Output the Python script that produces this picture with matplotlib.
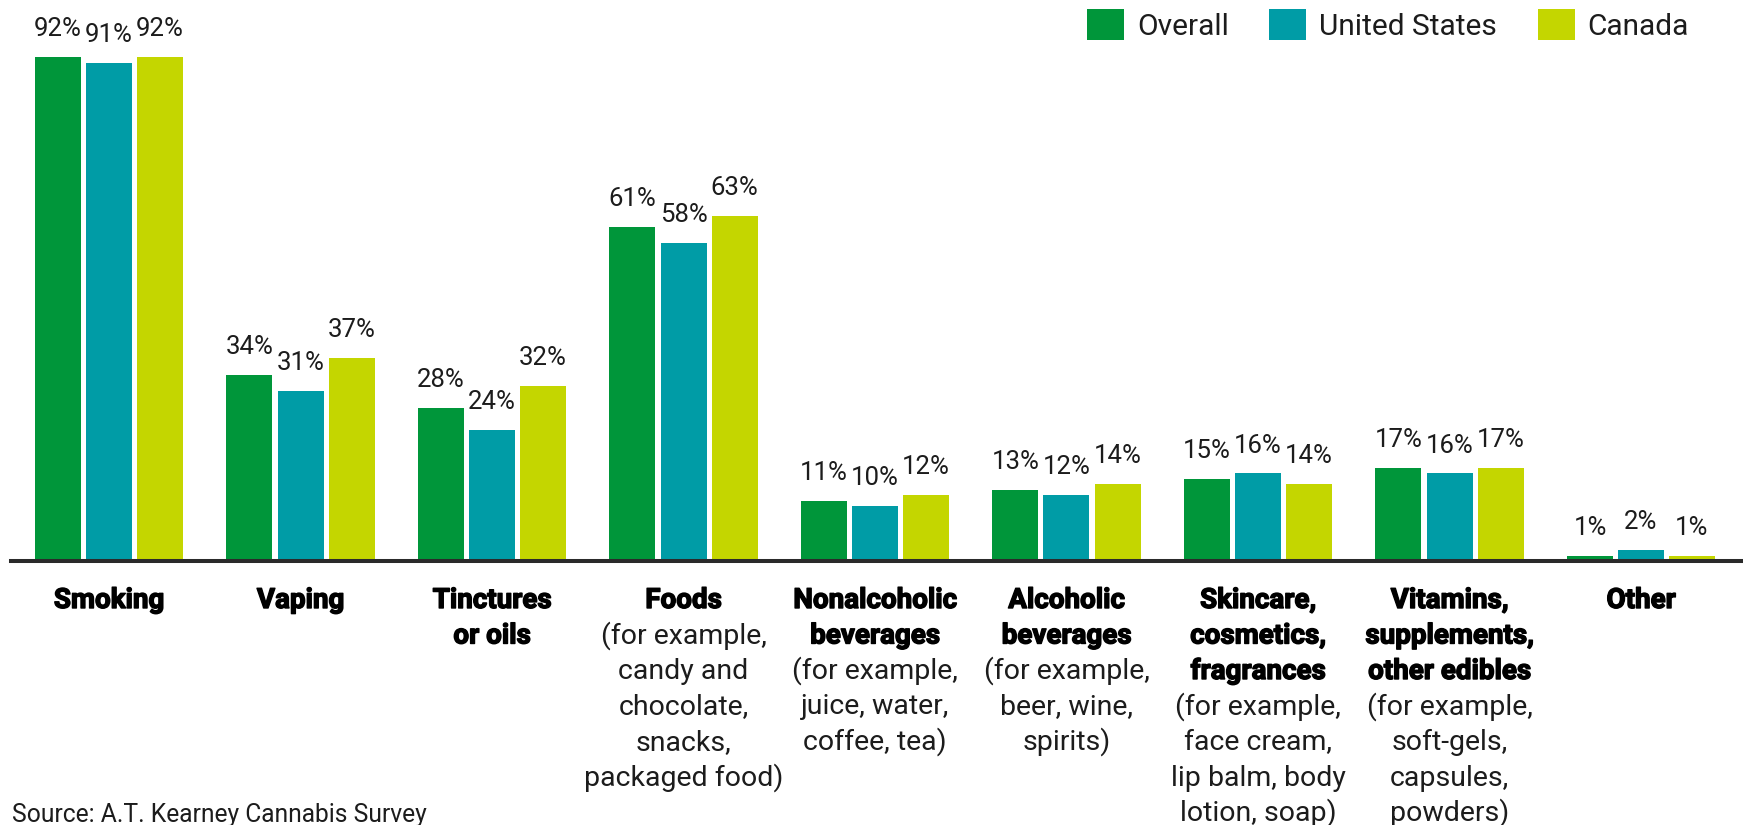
import numpy as np
import matplotlib
matplotlib.use("Agg")
from matplotlib import pyplot as plt
from matplotlib.patches import Patch
from matplotlib import patheffects
from matplotlib.transforms import blended_transform_factory

plt.rcParams['font.family'] = ['Roboto', 'DejaVu Sans']

categories_bold = [
    ["Smoking"],
    ["Vaping"],
    ["Tinctures", "or oils"],
    ["Foods"],
    ["Nonalcoholic", "beverages"],
    ["Alcoholic", "beverages"],
    ["Skincare,", "cosmetics,", "fragrances"],
    ["Vitamins,", "supplements,", "other edibles"],
    ["Other"],
]
categories_detail = [
    [],
    [],
    [],
    ["(for example,", "candy and", "chocolate,", "snacks,", "packaged food)"],
    ["(for example,", "juice, water,", "coffee, tea)"],
    ["(for example,", "beer, wine,", "spirits)"],
    ["(for example,", "face cream,", "lip balm, body", "lotion, soap)"],
    ["(for example,", "soft-gels,", "capsules,", "powders)"],
    [],
]
series_names = ["Overall", "United States", "Canada"]
overall = [92, 34, 28, 61, 11, 13, 15, 17, 1]
united_states = [91, 31, 24, 58, 10, 12, 16, 16, 2]
canada = [92, 37, 32, 63, 12, 14, 14, 17, 1]
colors = ["#00963A", "#009CA6", "#C4D600"]
text_color = "#1c1c1c"

W, H = 1743, 825
fig = plt.figure(figsize=(W / 100, H / 100), dpi=100)

# pixel geometry of the plotting area
pitch = 191.5          # px between group centres
first_center = 109     # px of first group centre
base_px = 561          # px from top where value 0 sits
px_per_unit = 5.478

ax = fig.add_axes([0, (H - base_px) / H, 1, base_px / H])
ax.set_xlim(-first_center / pitch, (W - first_center) / pitch)
ax.set_ylim(0, base_px / px_per_unit)
ax.axis('off')

x = np.arange(len(overall))
bar_w = 46 / pitch
step = 51 / pitch
for k, (vals, col) in enumerate(zip([overall, united_states, canada], colors)):
    xs = x + (k - 1) * step
    ax.bar(xs, vals, width=bar_w, color=col, zorder=2)
    for xi, v in zip(xs, vals):
        ax.annotate(f"{v}%", (xi, v), xytext=(0, 15), textcoords='offset points',
                    ha='center', va='baseline', fontsize=18.5, color=text_color)

ax.axhline(0, xmin=11 / W, xmax=1, color="#2a2a2a", lw=2.9, zorder=3, clip_on=False)

# category labels under the axis: heavy names then the regular examples
heavy = [patheffects.withStroke(linewidth=1.0, foreground='black')]
trans = blended_transform_factory(ax.transData, fig.transFigure)
first_baseline = 608
line_gap = 35.5
for i in range(len(overall)):
    lines = [(t, True) for t in categories_bold[i]] + [(t, False) for t in categories_detail[i]]
    for j, (t, is_bold) in enumerate(lines):
        y = 1 - (first_baseline + j * line_gap) / H
        if is_bold:
            fig.text(i, y, t, transform=trans, ha='center', va='baseline', fontsize=20,
                     fontweight='bold', color='black', path_effects=heavy)
        else:
            fig.text(i, y, t, transform=trans, ha='center', va='baseline', fontsize=20.5,
                     color=text_color)

fig.text(12 / W, 1 - 822 / H, "Source: A.T. Kearney Cannabis Survey", ha='left', va='baseline',
         fontsize=17.7, color=text_color)

handles = [Patch(facecolor=c, edgecolor='none') for c in colors]
fig.legend(handles, series_names, loc='upper right', bbox_to_anchor=(1 - 33 / W, 1 + 12 / H),
           ncol=3, frameon=False, fontsize=21.5, handlelength=1.24, handleheight=1.24,
           handletextpad=0.44, columnspacing=1.35, labelcolor=text_color, borderpad=0.2)

fig.savefig("out.png", dpi=100)
